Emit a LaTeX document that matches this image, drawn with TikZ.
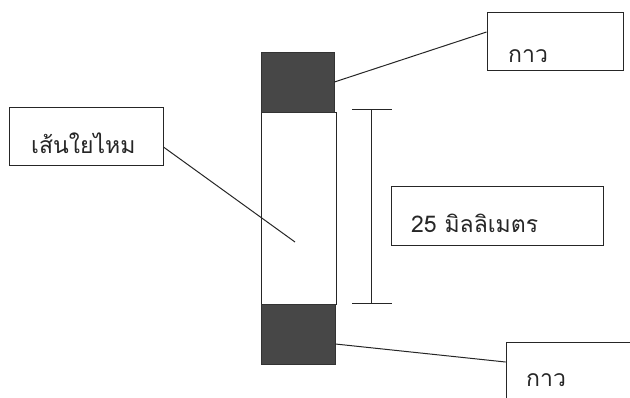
\documentclass[tikz,border=0pt]{standalone}
\usepackage{fontspec}
\newfontfamily\thaifont[Script=Thai]{Loma}
\begin{document}
\begin{tikzpicture}[x=1pt,y=-1pt,
  glue/.style={fill=black!72,draw=black!80,line width=0.8pt},
  strip/.style={draw=black!85,line width=0.9pt},
  box/.style={draw=black!85,line width=0.9pt,fill=white},
  lbl/.style={font=\thaifont\fontsize{23}{27}\selectfont,anchor=base west,inner sep=0pt,text=black!85},
  conn/.style={draw=black!85,line width=1pt}]
\useasboundingbox (0,0) rectangle (630,397);
\clip (0,0) rectangle (630,397);
% specimen
\path[strip] (261,112) rectangle (336,304);
\node[glue,minimum width=73pt,minimum height=60pt,inner sep=0pt] (topglue) at (297.5,82) {};
\node[glue,minimum width=74pt,minimum height=60pt,inner sep=0pt] (botglue) at (298,334) {};
% scale bar
\coordinate (bt) at (371,109);
\coordinate (bb) at (371,303);
\draw[conn] (bt) -- (bb);
\draw[conn] (352,109) -- (392,109);
\draw[conn] (352,303) -- (392,303);
% boxes
\node[box,minimum width=136pt,minimum height=58pt,inner sep=0pt] (topbox) at (555,41) {};
\node[box,minimum width=154pt,minimum height=58pt,inner sep=0pt] (leftbox) at (86,136) {};
\node[box,minimum width=212pt,minimum height=59pt,inner sep=0pt] (mmbox) at (497,215.5) {};
\node[box,minimum width=140pt,minimum height=80pt,inner sep=0pt] (botbox) at (576,382) {};
% labels
\node[lbl] (t1) at (508,62) {กาว};
\node[lbl] (t2) at (31,153) {เส้นใยไหม};
\node[lbl] (t3) at (411,232) {25 มิลลิเมตร};
\node[lbl,text depth=0pt] (t4) at (526,386) {กาว};
% connectors
\coordinate (fib) at (295,242);
\draw[conn] (topglue.east) -- (topbox.west |- 0,32);
\draw[conn] (leftbox.east |- 0,147) -- (fib);
\draw[conn] (botglue.east |- 0,344) -- (botbox.west |- 0,362);
\end{tikzpicture}
\end{document}
